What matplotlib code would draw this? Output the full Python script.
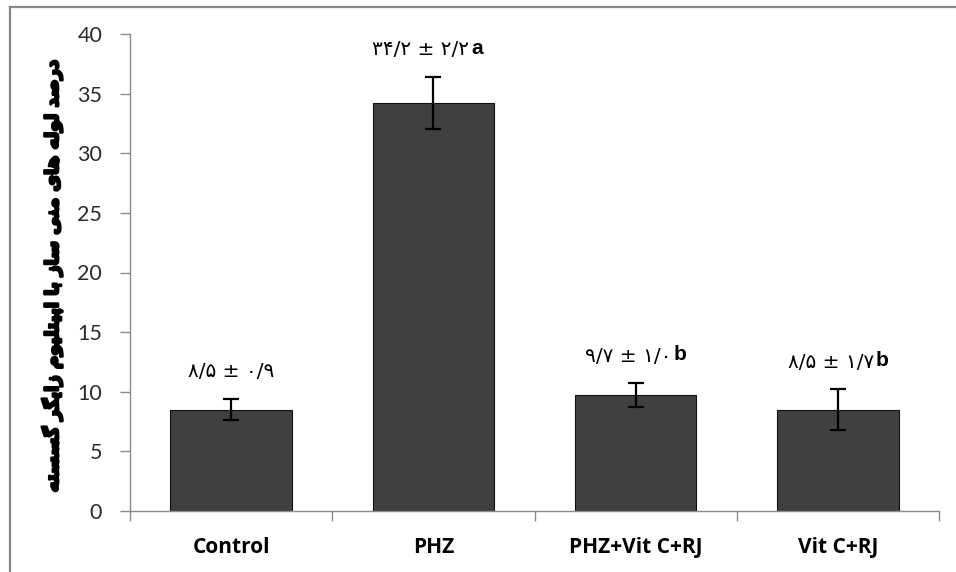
import matplotlib
matplotlib.use("Agg")
import matplotlib.pyplot as plt
import matplotlib.patheffects as pe
from matplotlib.lines import Line2D

categories = ["Control", "PHZ", "PHZ+Vit C+RJ", "Vit C+RJ"]
means = [8.5, 34.2, 9.7, 8.5]
errors = [0.9, 2.2, 1.0, 1.7]
value_labels = ["۸/۵ ± ۰/۹", "۳۴/۲ ± ۲/۲", "۹/۷ ± ۱/۰", "۸/۵ ± ۱/۷"]
letters = ["", "a", "b", "b"]
ylabel_text = "درصد لوله های منی ساز با اپیتلیوم زایگر گسسته"
yticks = [0, 5, 10, 15, 20, 25, 30, 35, 40]

# --- minimal Persian shaper (presentation forms) ---
FORMS = {
    'ا': ('\uFE8D', '\uFE8E', None, None),
    'ب': ('\uFE8F', '\uFE90', '\uFE91', '\uFE92'),
    'ت': ('\uFE95', '\uFE96', '\uFE97', '\uFE98'),
    'د': ('\uFEA9', '\uFEAA', None, None),
    'ر': ('\uFEAD', '\uFEAE', None, None),
    'ز': ('\uFEAF', '\uFEB0', None, None),
    'س': ('\uFEB1', '\uFEB2', '\uFEB3', '\uFEB4'),
    'ص': ('\uFEB9', '\uFEBA', '\uFEBB', '\uFEBC'),
    'ل': ('\uFEDD', '\uFEDE', '\uFEDF', '\uFEE0'),
    'م': ('\uFEE1', '\uFEE2', '\uFEE3', '\uFEE4'),
    'ن': ('\uFEE5', '\uFEE6', '\uFEE7', '\uFEE8'),
    'ه': ('\uFEE9', '\uFEEA', '\uFEEB', '\uFEEC'),
    'و': ('\uFEED', '\uFEEE', None, None),
    'پ': ('\uFB56', '\uFB57', '\uFB58', '\uFB59'),
    'گ': ('\uFB92', '\uFB93', '\uFB94', '\uFB95'),
    'ی': ('\uFBFC', '\uFBFD', '\uFBFE', '\uFBFF'),
}


def shape(text):
    out = []
    n = len(text)
    for i, ch in enumerate(text):
        if ch not in FORMS:
            out.append(ch)
            continue
        iso, fin, ini, med = FORMS[ch]
        prev = text[i - 1] if i > 0 else None
        nxt = text[i + 1] if i < n - 1 else None
        join_prev = prev in FORMS and FORMS[prev][2] is not None
        join_next = nxt in FORMS and ini is not None
        if join_prev and join_next:
            out.append(med)
        elif join_prev:
            out.append(fin)
        elif join_next:
            out.append(ini)
        else:
            out.append(iso)
    return "".join(out)[::-1]


W, H = 956, 572
fig = plt.figure(figsize=(W / 100, H / 100), dpi=100)
fig.patch.set_facecolor("white")

# outer chart frame (left and top edges visible)
frame_col = "#878787"
fig.add_artist(Line2D([9.5 / W, 9.5 / W], [0, 1 - 6.5 / H], transform=fig.transFigure,
                      color=frame_col, lw=1.6))
fig.add_artist(Line2D([9.5 / W, 1], [1 - 6.5 / H, 1 - 6.5 / H], transform=fig.transFigure,
                      color=frame_col, lw=1.6))

ax = fig.add_axes([130 / W, 1 - 511 / H, (939 - 130) / W, (511 - 34) / H])
x = list(range(len(categories)))
ax.bar(x, means, width=0.6, color="#404040", edgecolor="#111111", linewidth=0.8, zorder=2)
ax.errorbar(x, means, yerr=errors, fmt="none", ecolor="black", elinewidth=1.6,
            capsize=5.5, capthick=1.6, zorder=3)

ax.set_xlim(-0.5, 3.5)
ax.set_ylim(0, 40)
ax.set_yticks(yticks)
ax.set_yticklabels([str(v) for v in yticks], fontfamily="Lato", fontsize=15.5, color="#2b2b2b")
ax.set_xticks(x)
ax.set_xticklabels(categories, fontfamily="Open Sans", fontweight="bold", fontsize=15, color="black")
ax.set_xticks([-0.5, 0.5, 1.5, 2.5, 3.5], minor=True)
ax.tick_params(axis="x", which="major", length=0, pad=19)
ax.tick_params(axis="x", which="minor", length=7, color="#8c8c8c", width=1)
ax.tick_params(axis="y", length=7, color="#8c8c8c", width=1, pad=13)

for s in ["top", "right"]:
    ax.spines[s].set_visible(False)
for s in ["left", "bottom"]:
    ax.spines[s].set_color("#8c8c8c")
    ax.spines[s].set_linewidth(1)

for xi, m, e, lab, let in zip(x, means, errors, value_labels, letters):
    if let:
        ax.annotate(lab, xy=(xi, m + e), xytext=(26, 19.5), textcoords="offset points",
                    ha="right", va="center", fontsize=14.5, family=["DejaVu Sans"], color="black")
        ax.annotate(let, xy=(xi, m + e), xytext=(27, 20.5), textcoords="offset points",
                    ha="left", va="center", fontsize=15, family=["Liberation Sans"],
                    fontweight="bold", color="black")
    else:
        ax.annotate(lab, xy=(xi, m + e), xytext=(0, 19.5), textcoords="offset points",
                    ha="center", va="center", fontsize=14.5, family=["DejaVu Sans"], color="black")

fig.text(52 / W, 1 - 276 / H, shape(ylabel_text), rotation=90, ha="center", va="center",
         fontsize=13, family=["DejaVu Sans"], fontweight="bold", color="black",
         path_effects=[pe.withStroke(linewidth=1.8, foreground="black")])

fig.savefig("out.png", dpi=100, facecolor="white")
